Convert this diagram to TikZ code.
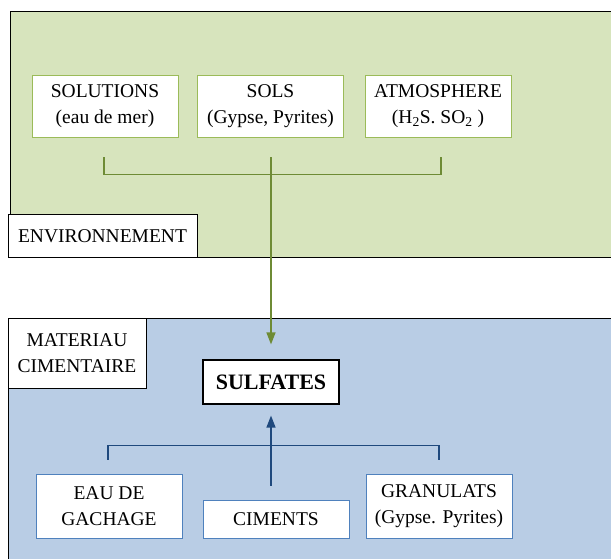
\documentclass[tikz,border=0pt]{standalone}
\usepackage{fontspec}
\setmainfont{Liberation Serif}
\usetikzlibrary{arrows.meta}
\definecolor{envfill}{HTML}{D7E4BD}
\definecolor{envbox}{HTML}{9BBB59}
\definecolor{envline}{HTML}{6E8B35}
\definecolor{matfill}{HTML}{B9CDE5}
\definecolor{matbox}{HTML}{4F81BD}
\definecolor{matline}{HTML}{1F497D}
\tikzset{
  txt/.style={font=\fontsize{19.5}{26}\selectfont, align=center, inner sep=0pt},
  envitem/.style={txt, fill=white, draw=envbox, line width=0.8pt, minimum width=146pt, minimum height=62pt},
  matitem/.style={txt, fill=white, draw=matbox, line width=0.8pt, minimum width=146pt},
  tagbox/.style={txt, fill=white, draw=black, line width=1pt},
  envconn/.style={draw=envline, line width=1.4pt},
  matconn/.style={draw=matline, line width=1.4pt},
}
\begin{document}
\begin{tikzpicture}[x=1pt,y=-1pt]
\useasboundingbox (0,0) rectangle (611,559);
\clip (0,0) rectangle (611,559);
\fill[white] (0,0) rectangle (611,559);
% environment panel
\draw[fill=envfill, line width=1pt] (10,12) rectangle (620,257);
% material panel
\draw[fill=matfill, line width=1pt] (8,318) rectangle (620,570);

\node[envitem] (solutions) at (105,106) {SOLUTIONS\\(eau de mer)};
\node[envitem] (sols) at (270.5,106) {SOLS\\(Gypse, Pyrites)};
\node[envitem] (atmos) at (438,106) {ATMOSPHERE\\(H\textsubscript{2}S. SO\textsubscript{2} )};
\node[tagbox, minimum width=189pt, minimum height=42pt] (env) at (102.5,236) {ENVIRONNEMENT};

\node[tagbox, minimum width=138pt, minimum height=70pt] (mat) at (77,353) {MATERIAU\\CIMENTAIRE};
\node[tagbox, line width=1.2pt, minimum width=136pt, minimum height=44pt, font=\fontsize{22}{26}\selectfont\bfseries] (sulf) at (271,382) {SULFATES};

\node[matitem, minimum height=64pt] (eau) at (109,506) {EAU DE\\GACHAGE};
\node[matitem, minimum height=38pt] (cim) at (276,519) {CIMENTS};
\node[matitem, minimum height=64pt] (gran) at (439,506) {GRANULATS\\(Gypse. Pyrites)};

% green bracket and arrow
\coordinate (gl) at ([yshift=-37pt]solutions.south -| 104,0);
\coordinate (gr) at ([yshift=-37pt]atmos.south -| 441,0);
\draw[envconn] ([yshift=-20pt]solutions.south -| gl) -- (gl) -- (gr) -- ([yshift=-20pt]atmos.south -| gr);
\draw[envconn, -{Triangle[width=9pt,length=12pt]}, shorten >=15pt]
  ([yshift=-20pt]sols.south -| sulf.north) -- (sulf.north);

% blue bracket and arrow
\coordinate (bl) at ([yshift=28pt]eau.north -| 108,0);
\coordinate (br) at ([yshift=28pt]gran.north -| 439,0);
\draw[matconn] ([yshift=14pt]eau.north -| bl) -- (bl) -- (br) -- ([yshift=14pt]gran.north -| br);
\draw[matconn, -{Triangle[width=9pt,length=12pt]}, shorten >=11pt]
  ([yshift=14pt]cim.north -| sulf.south) -- (sulf.south);
\end{tikzpicture}
\end{document}
